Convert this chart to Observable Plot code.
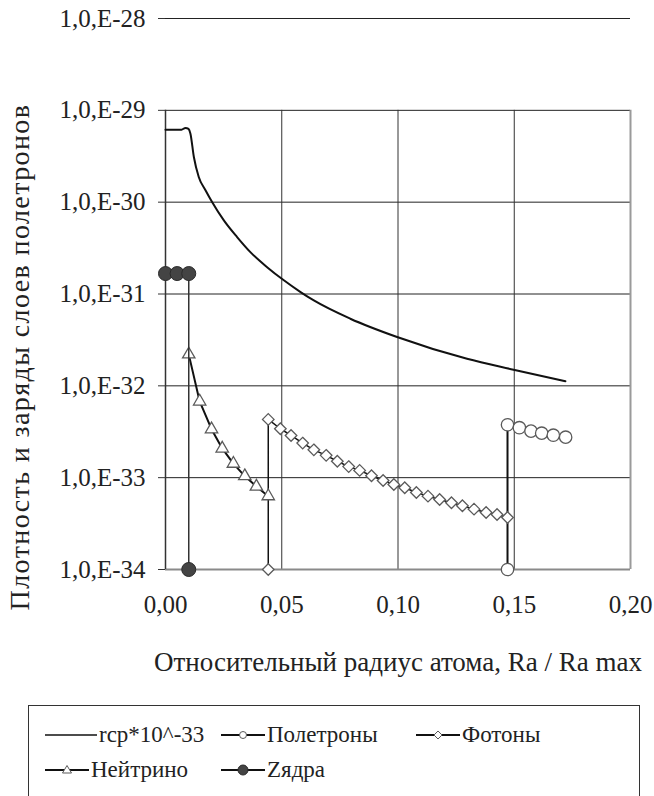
<!DOCTYPE html>
<html>
<head>
<meta charset="utf-8">
<script src="https://cdn.jsdelivr.net/npm/d3@7"></script>
<script src="https://cdn.jsdelivr.net/npm/@observablehq/plot@0.6"></script>
<style>
  html, body { margin: 0; padding: 0; background: #fff; overflow: hidden; }
  #wrap { position: relative; width: 654px; height: 796px; font-family: "Liberation Serif", "Times New Roman", "DejaVu Serif", "Noto Serif", serif; color: #222; }
  #chart { position: absolute; left: 0; top: 0; }
  .ytitle { position: absolute; left: 20px; top: 357px; transform: translate(-50%, -50%) rotate(-90deg); white-space: nowrap; font-size: 28px; letter-spacing: 1.4px; }
  .xtitle { position: absolute; left: 398px; top: 662px; transform: translate(-50%, -50%); white-space: nowrap; font-size: 27px; }
  #legend { position: absolute; left: 28px; top: 705px; width: 612px; height: 130px; border: 1px solid #333; box-sizing: border-box; }
  .item { position: absolute; display: flex; align-items: center; font-size: 23px; white-space: nowrap; }
  .item svg { margin-right: 2px; }
</style>
</head>
<body>
<div id="wrap">
  <div id="chart"></div>
  <div class="ytitle">Плотность и заряды слоев полетронов</div>
  <div class="xtitle">Относительный радиус атома, Ra / Ra max</div>
  <div id="legend"></div>
</div>
<script>
// ---- data ----
const yTicks = [1e-34, 1e-33, 1e-32, 1e-31, 1e-30, 1e-29, 1e-28];
const xTicks = [0, 0.05, 0.10, 0.15, 0.20];

const seriesNames = ["rcp*10^-33", "Полетроны", "Фотоны", "Нейтрино", "Zядра"];

const rcpX = [0, 0.0043, 0.0069, 0.0086, 0.0099, 0.0107, 0.0122, 0.0143, 0.0172, 0.0201, 0.0251, 0.0308, 0.0365, 0.0437, 0.0509, 0.0581, 0.0638, 0.0795, 0.0996, 0.1297, 0.1497, 0.1720];
const rcpY = [6.16e-30, 6.16e-30, 6.16e-30, 6.44e-30, 6.28e-30, 5.61e-30, 3.10e-30, 1.88e-30, 1.35e-30, 1.00e-30, 6.34e-31, 4.17e-31, 2.86e-31, 1.96e-31, 1.41e-31, 1.05e-31, 8.51e-32, 5.38e-32, 3.40e-32, 1.97e-32, 1.50e-32, 1.12e-32];

const poletronX = [0.1471, 0.1471, 0.1522, 0.1572, 0.1618, 0.1668, 0.1721];
const poletronY = [1e-34, 3.77e-33, 3.50e-33, 3.21e-33, 3.05e-33, 2.90e-33, 2.76e-33];

const photonX = [0.0442, 0.0442, 0.0494, 0.0540, 0.0590, 0.0638, 0.0691, 0.0739, 0.0788, 0.0835, 0.0886, 0.0936, 0.0982, 0.1029, 0.1079, 0.1129, 0.1179, 0.1230, 0.1277, 0.1327, 0.1379, 0.1426, 0.1471];
const photonY = [1e-34, 4.31e-33, 3.41e-33, 2.88e-33, 2.38e-33, 2.01e-33, 1.75e-33, 1.51e-33, 1.32e-33, 1.20e-33, 1.05e-33, 9.32e-34, 8.43e-34, 7.76e-34, 6.90e-34, 6.29e-34, 5.79e-34, 5.33e-34, 4.94e-34, 4.54e-34, 4.18e-34, 3.97e-34, 3.68e-34];

const neutrinoX = [0.0100, 0.0147, 0.0198, 0.0244, 0.0292, 0.0341, 0.0391, 0.0442];
const neutrinoY = [2.20e-32, 6.76e-33, 3.37e-33, 2.08e-33, 1.42e-33, 1.04e-33, 8.01e-34, 6.29e-34];

const nucleiX = [0, 0.005, 0.010, 0.010];
const nucleiY = [1.67e-31, 1.67e-31, 1.67e-31, 1e-34];

// ---- build tables ----
const zip = (xs, ys) => xs.map((x, i) => ({x, y: ys[i]}));
const rcp = zip(rcpX, rcpY);
const poletron = zip(poletronX, poletronY);
const photon = zip(photonX, photonY);
const neutrino = zip(neutrinoX, neutrinoY);
const nuclei = zip(nucleiX, nucleiY);

const openStroke = "#5a5a5a";
const fontFam = "'Liberation Serif', 'Times New Roman', 'DejaVu Serif', 'Noto Serif', serif";

const chart = Plot.plot({
  width: 654,
  height: 690,
  marginLeft: 165,
  marginRight: 24,
  marginTop: 18,
  marginBottom: 121,
  style: {fontFamily: fontFam, fontSize: "25px", color: "#222", background: "transparent"},
  x: {domain: [0, 0.2]},
  y: {type: "log", domain: [1e-34, 1e-28]},
  marks: [
    // grid
    Plot.ruleY(yTicks.slice(1), {stroke: "#222", strokeWidth: 1, strokeOpacity: 1}),
    Plot.ruleX(xTicks.slice(1, 4), {y1: 1e-34, y2: 1e-29, stroke: "#333", strokeWidth: 1}),
    Plot.ruleX([0.2], {y1: 1e-34, y2: 1e-29, stroke: "#9a9a9a", strokeWidth: 2}),
    Plot.ruleY([1e-34], {stroke: "#8a8a8a", strokeWidth: 2}),
    Plot.ruleX([0], {y1: 1e-34, y2: 1e-29, stroke: "#333", strokeWidth: 1.5}),
    Plot.axisY({ticks: yTicks, tickSize: 7, tickPadding: 13, stroke: "#333",
      tickFormat: d => "1,0,E-" + Math.round(-Math.log10(d)), fontSize: 25, fontFamily: fontFam, label: null}),
    Plot.axisX({ticks: xTicks, tickSize: 0, tickPadding: 26,
      tickFormat: d => d.toFixed(2).replace(".", ","), fontSize: 25, fontFamily: fontFam, label: null}),
    // series lines
    Plot.line(rcp, {x: "x", y: "y", stroke: "#111", strokeWidth: 2, curve: "monotone-x"}),
    Plot.line(poletron, {x: "x", y: "y", stroke: "#111", strokeWidth: 2}),
    Plot.dot(poletron, {x: "x", y: "y", r: 6.2, symbol: "circle", fill: "white", stroke: openStroke, strokeWidth: 1.3}),
    Plot.line(photon, {x: "x", y: "y", stroke: "#111", strokeWidth: 1.5}),
    Plot.dot(photon, {x: "x", y: "y", r: 5.2, symbol: "diamond2", fill: "white", stroke: openStroke, strokeWidth: 1.3}),
    Plot.line(neutrino, {x: "x", y: "y", stroke: "#111", strokeWidth: 2}),
    Plot.dot(neutrino, {x: "x", y: "y", r: 4.6, symbol: "triangle", fill: "white", stroke: openStroke, strokeWidth: 1.3}),
    Plot.line(nuclei, {x: "x", y: "y", stroke: "#333", strokeWidth: 1.5}),
    Plot.dot(nuclei, {x: "x", y: "y", r: 7, symbol: "circle", fill: "#444", stroke: "#2a2a2a", strokeWidth: 1})
  ]
});
document.getElementById("chart").appendChild(chart);

// ---- legend ----
const legendSpec = [
  {name: seriesNames[0], sym: null, left: 16, top: 16},
  {name: seriesNames[1], sym: "circle", left: 192, top: 16},
  {name: seriesNames[2], sym: "diamond", left: 387, top: 16},
  {name: seriesNames[3], sym: "triangle", left: 16, top: 51},
  {name: seriesNames[4], sym: "dot", left: 192, top: 51}
];
const legend = document.getElementById("legend");
for (const s of legendSpec) {
  const w = s.sym ? 44 : 52;
  let m = "";
  const c = w / 2;
  if (s.sym === "circle") m = `<circle cx="${c}" cy="10" r="3.5" fill="white" stroke="${openStroke}" stroke-width="1"/>`;
  if (s.sym === "diamond") m = `<path d="M${c},6 L${c+4},10 L${c},14 L${c-4},10 Z" fill="white" stroke="${openStroke}" stroke-width="1"/>`;
  if (s.sym === "triangle") m = `<path d="M${c},5.5 L${c+4.5},13 L${c-4.5},13 Z" fill="white" stroke="${openStroke}" stroke-width="1"/>`;
  if (s.sym === "dot") m = `<circle cx="${c}" cy="10" r="5" fill="#444" stroke="#2a2a2a" stroke-width="1"/>`;
  const div = document.createElement("div");
  div.className = "item";
  div.style.left = s.left + "px";
  div.style.top = s.top + "px";
  div.innerHTML = `<svg width="${w}" height="20"><line x1="0" y1="10" x2="${w}" y2="10" stroke="#111" stroke-width="${s.sym ? 2 : 1.5}"/>${m}</svg><span>${s.name}</span>`;
  legend.appendChild(div);
}
</script>
</body>
</html>
